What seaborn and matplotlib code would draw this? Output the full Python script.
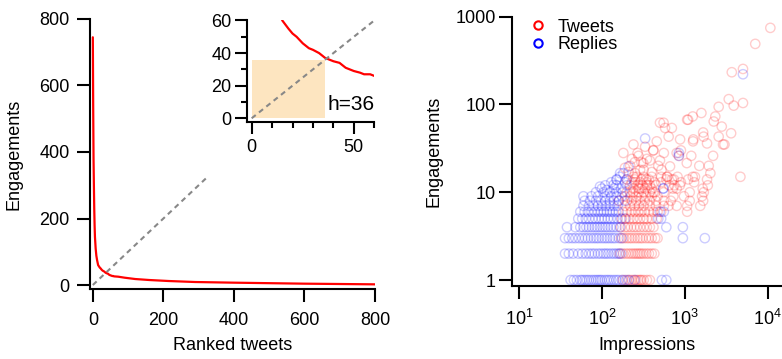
import pandas as pd
import matplotlib.pyplot as plt
import seaborn as sns
from matplotlib.patches import Rectangle
from matplotlib.lines import Line2D

# ranked engagements (rank -> engagements)
rank_x = [0, 1, 2, 3, 4, 5, 6, 8, 10, 12, 15, 18, 20, 22, 25, 28, 30, 33, 36, 40,
          43, 46, 50, 53, 55, 58, 60, 72, 90, 120, 160, 215, 290, 400, 500, 600, 700, 800]
rank_y = [745, 540, 380, 300, 230, 180, 145, 110, 88, 75, 60, 55, 52, 50, 46, 43, 42, 40, 37, 35,
          34, 31, 29, 28, 27, 27, 26, 25, 22, 18, 15, 12, 9, 7, 5.5, 4, 3, 2]
h_index = 36
diag_end = 325

# impressions per engagement row (integer engagements)
rows = [1, 2, 3, 4, 5, 6, 7, 8, 9, 10, 11, 12, 13, 14, 15]
replies_rows = [
    [42, 46, 50, 55, 58, 62, 66, 70, 75, 80, 85, 90, 95, 100, 108, 115, 122, 130, 140, 150, 160, 175, 190, 210, 250, 530, 600],
    [36, 40, 45, 52, 58, 64, 70, 76, 82, 90, 97, 105, 112, 120, 130, 140, 150, 160, 170],
    [36, 40, 44, 48, 53, 58, 63, 68, 74, 80, 86, 92, 100, 108, 116, 125, 135, 145, 160, 175, 950, 1750],
    [38, 48, 55, 60, 65, 70, 76, 82, 88, 95, 102, 110, 118, 128, 138, 150, 165, 600, 950],
    [52, 58, 64, 70, 77, 84, 92, 100, 108, 118, 128, 140, 155, 170, 190, 480, 520],
    [55, 62, 68, 75, 82, 90, 98, 106, 115, 125, 135, 148, 160, 500, 560],
    [60, 70, 80, 90, 100, 112, 125, 140, 155],
    [62, 72, 85, 98, 110, 125, 140, 160, 190],
    [60, 75, 90, 110, 130, 150, 175],
    [85, 105, 125, 150, 180],
    [100, 140, 170, 550],
    [110, 150, 200],
    [130, 190],
    [150, 200],
    [165],
]
tweets_rows = [
    [180, 200, 215, 230, 245, 260, 275, 290, 300, 320, 350, 380],
    [165, 180, 195, 210, 225, 240, 255, 270, 285, 300, 320, 345, 370, 400, 430],
    [170, 185, 200, 215, 230, 250, 270, 290, 310, 340, 370, 400, 440, 470],
    [170, 190, 205, 225, 245, 265, 290, 320, 350, 380, 420],
    [175, 195, 215, 240, 265, 290, 320, 350, 400, 460],
    [180, 200, 225, 250, 275, 300, 330, 370, 420, 470, 520, 1070],
    [190, 220, 250, 280, 320, 380, 450, 560, 640, 800, 1070, 1540],
    [160, 200, 230, 260, 290, 330, 380, 450, 560, 680, 1150, 1670],
    [190, 220, 260, 300, 340, 400, 470, 730, 980, 1620],
    [200, 220, 240, 280, 320, 380, 420, 440, 560, 1150, 1700],
    [240, 280, 290, 330, 400, 720, 800, 1650],
    [220, 270, 310, 350, 380, 450, 650, 750, 875, 1900],
    [230, 250, 290, 350, 430, 520, 900, 1300],
    [200, 250, 300, 345, 370, 600, 700, 740, 1100, 1860],
    [240, 265, 320, 400, 520, 610, 620, 820, 1250, 1330, 4700],
]

# sparse higher-engagement points
tweets_hi_x = [10800, 7100, 5050, 3700, 5050, 3400, 3900, 2570, 2340, 2800, 2240, 3630, 3020,
               2570, 1590, 1250, 1070, 1100, 1270, 1690, 1860, 1670, 556, 580, 700, 640, 880,
               503, 241, 182, 420, 333, 850, 1950, 2040, 525, 480, 380, 277, 220, 252, 316,
               665, 800, 1060, 416, 503, 290, 270, 560, 900, 1200, 1500, 2200, 320, 400, 250, 190,
               230, 2900, 1260, 460, 350, 300, 210]
tweets_hi_y = [746, 490, 254, 233, 104, 115, 97, 94, 73, 56, 64, 47, 35,
               43, 80, 73, 67, 67, 40, 43, 36, 48, 62, 54, 54, 43, 40,
               62, 35, 28, 30, 33, 26, 20, 16.5, 18, 20, 23, 26, 20, 16.5, 21.5,
               19.7, 28, 21.5, 30, 23, 18, 28, 28, 30, 26, 20, 26, 18, 17, 22, 19,
               24, 35, 38, 38, 24, 22, 17]
replies_hi_x = [5050, 333, 166, 553, 850, 95, 115, 138, 152, 182, 210, 850]
replies_hi_y = [221, 41, 16.5, 11.1, 28, 11.6, 10.6, 12.1, 13.9, 16.5, 19.7, 26]

rank_df = pd.DataFrame({"rank": rank_x, "eng": rank_y})

recs = []
for e, imps in zip(rows, replies_rows):
    recs += [("Replies", i, e) for i in imps]
for e, imps in zip(rows, tweets_rows):
    recs += [("Tweets", i, e) for i in imps]
recs += [("Tweets", i, e) for i, e in zip(tweets_hi_x, tweets_hi_y)]
recs += [("Replies", i, e) for i, e in zip(replies_hi_x, replies_hi_y)]
sc_df = pd.DataFrame(recs, columns=["kind", "imp", "eng"])

sns.set_style("ticks")
plt.rcParams["font.family"] = ["Liberation Sans", "DejaVu Sans"]
plt.rcParams["mathtext.fontset"] = "custom"
plt.rcParams["mathtext.rm"] = "Liberation Sans"
plt.rcParams["font.size"] = 13
plt.rcParams["text.color"] = "black"
plt.rcParams["axes.labelcolor"] = "black"

FS = 13
fig = plt.figure(figsize=(7.82, 3.59), dpi=100)

def style(ax, major=9.5, minor=4.5):
    for s in ["top", "right"]:
        ax.spines[s].set_visible(False)
    for s in ["left", "bottom"]:
        ax.spines[s].set_linewidth(1.5)
        ax.spines[s].set_color("black")
    ax.tick_params(which="major", direction="out", length=major, width=1.5, labelsize=FS, colors="black")
    ax.tick_params(which="minor", direction="out", length=minor, width=1.5, colors="black")

# ---- left: ranked tweets
ax1 = fig.add_axes([0.1151, 0.1950, 0.3645, 0.7521])
sns.lineplot(data=rank_df, x="rank", y="eng", color="red", lw=1.6, ax=ax1)
ax1.plot([0, diag_end], [0, diag_end], color="#888888", lw=1.5, ls=(0, (2.5, 2)))
ax1.set_xlim(-8, 800)
ax1.set_ylim(-12, 800)
ax1.set_xticks([0, 200, 400, 600, 800])
ax1.set_yticks([0, 200, 400, 600, 800])
ax1.set_xlabel("Ranked tweets", fontsize=FS, labelpad=6)
ax1.set_ylabel("Engagements", fontsize=FS, labelpad=12)
style(ax1)
ax1.tick_params(axis="y", pad=5)
ax1.tick_params(axis="x", pad=7)

# ---- inset zoom with h-index
axi = fig.add_axes([0.3162, 0.6610, 0.1624, 0.2819])
axi.add_patch(Rectangle((0, 0), h_index, h_index, color="#FDE5C0", lw=0, zorder=0))
sns.lineplot(data=rank_df, x="rank", y="eng", color="red", lw=1.6, ax=axi)
axi.plot([0, 60], [0, 60], color="#888888", lw=1.5, ls=(0, (2.5, 2)))
axi.set_xlim(-2.15, 60)
axi.set_ylim(-2.1, 60)
axi.set_xticks([0, 50])
axi.set_xticks([10, 20, 30, 40, 60], minor=True)
axi.set_yticks([0, 20, 40, 60])
axi.set_yticks([10, 30, 50], minor=True)
axi.set_xlabel("")
axi.set_ylabel("")
style(axi, major=8.5, minor=4.3)
axi.tick_params(axis="y", pad=3)
axi.tick_params(axis="x", pad=4)
axi.text(60, 2.5, f"h={h_index}", ha="right", va="bottom", fontsize=15)

# ---- right: impressions vs engagements
ax2 = fig.add_axes([0.6543, 0.2033, 0.3453, 0.7502])
colors = {"Tweets": "red", "Replies": "blue"}
for kind in ["Tweets", "Replies"]:
    sub = sc_df[sc_df["kind"] == kind]
    sns.scatterplot(data=sub, x="imp", y="eng", s=45, ax=ax2, legend=False)
    coll = ax2.collections[-1]
    coll.set_facecolor("none")
    coll.set_edgecolor(colors[kind])
    coll.set_alpha(0.2)
    coll.set_linewidth(1.0)
ax2.set_xscale("log")
ax2.set_yscale("log")
ax2.set_xlim(8.17, 14800)
ax2.set_ylim(0.855, 1000)
ax2.set_xticks([10, 100, 1000, 10000])
ax2.set_yticks([1, 10, 100, 1000], labels=["1", "10", "100", "1000"])
ax2.minorticks_off()
ax2.set_xlabel("Impressions", fontsize=FS, labelpad=6)
ax2.set_ylabel("Engagements", fontsize=FS, labelpad=9)
style(ax2)
ax2.tick_params(axis="y", pad=2)
ax2.tick_params(axis="x", pad=7)

handles = [Line2D([], [], ls="", marker="o", mfc="none", mec=colors[k], mew=1.5, ms=6, label=k)
           for k in ["Tweets", "Replies"]]
ax2.legend(handles=handles, loc="upper left", bbox_to_anchor=(0.03, 1.02), frameon=False,
           handletextpad=0.5, handlelength=1.2, labelspacing=0.05, borderaxespad=0, fontsize=FS)

fig.savefig("out.png", dpi=100)
